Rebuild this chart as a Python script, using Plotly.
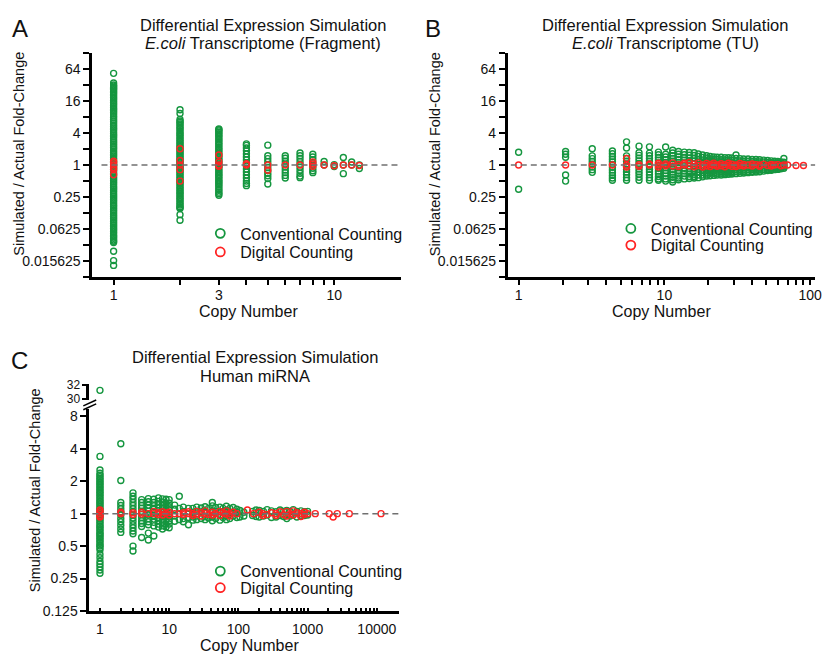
import math
import plotly.graph_objects as go

# ---------------- DATA ----------------
# Panel A: E.coli Transcriptome (Fragment)
A_COPY = [1, 2, 3, 4, 5, 6, 7, 8, 9, 10, 11, 12, 13]
A_CONV = [
    [53, 35, 32, 30.5, 29, 27.5, 26, 24.5, 23, 21.5, 20, 18.7, 17.5, 16.2, 15, 14, 13, 12, 11.2, 10.5,
     9.8, 9.1, 8.4, 7.8, 7.2, 6.7, 6.2, 5.7, 5.3, 4.95, 4.6, 4.25, 3.9, 3.65, 3.4, 3.15, 2.9, 2.7,
     2.5, 2.32, 2.15, 2.0, 1.85, 1.72, 1.6, 1.49, 1.38, 1.28, 1.18, 1.1, 1.02, 0.95, 0.88, 0.82,
     0.76, 0.7, 0.65, 0.6, 0.56, 0.52, 0.48, 0.445, 0.41, 0.38, 0.355, 0.33, 0.305, 0.28, 0.26,
     0.242, 0.225, 0.21, 0.195, 0.18, 0.168, 0.156, 0.145, 0.135, 0.125, 0.116, 0.108, 0.1, 0.093,
     0.086, 0.08, 0.074, 0.069, 0.064, 0.06, 0.056, 0.052, 0.048, 0.045, 0.042, 0.039, 0.037, 0.035,
     0.024, 0.016, 0.013],
    [11, 9.3, 7.2, 6.7, 6.3, 5.9, 5.5, 5.1, 4.8, 4.45, 4.1, 3.85, 3.6, 3.35, 3.1, 2.9, 2.7, 2.52,
     2.35, 2.2, 2.05, 1.9, 1.78, 1.66, 1.55, 1.45, 1.35, 1.26, 1.17, 1.1, 1.02, 0.95, 0.89, 0.83,
     0.77, 0.72, 0.67, 0.62, 0.58, 0.54, 0.5, 0.47, 0.44, 0.41, 0.38, 0.355, 0.33, 0.31, 0.29, 0.27,
     0.25, 0.235, 0.22, 0.205, 0.19, 0.178, 0.165, 0.158, 0.152, 0.117, 0.092],
    [4.8, 4.6, 4.4, 4.15, 3.9, 3.65, 3.4, 3.15, 2.95, 2.75, 2.55, 2.38, 2.2, 2.06, 1.92, 1.79, 1.66,
     1.55, 1.45, 1.35, 1.26, 1.18, 1.1, 1.02, 0.95, 0.89, 0.83, 0.77, 0.72, 0.67, 0.63, 0.59, 0.55,
     0.51, 0.48, 0.45, 0.42, 0.39, 0.36, 0.335, 0.31, 0.29, 0.27],
    [2.5, 2.35, 2.1, 1.85, 1.62, 1.42, 1.25, 1.1, 0.96, 0.84, 0.74, 0.65, 0.57, 0.5, 0.45, 0.41],
    [2.37, 1.5, 1.32, 1.16, 1.02, 0.9, 0.79, 0.7, 0.63, 0.56, 0.44],
    [1.5, 1.34, 1.18, 1.04, 0.92, 0.81, 0.72, 0.64, 0.57],
    [1.69, 1.5, 1.33, 1.17, 1.03, 0.91, 0.8, 0.7, 0.62, 0.58],
    [1.6, 1.42, 1.26, 1.11, 0.98, 0.87, 0.78, 0.72],
    [1.17, 1.0],
    [1.02, 0.94],
    [1.39, 1.0, 0.69],
    [1.14, 1.0],
    [1.0, 0.86],
]
A_DIG = [
    [1.18, 1.1, 1.0, 0.9, 0.82, 0.66],
    [2.03, 1.22, 1.0, 0.82, 0.5],
    [1.55, 1.14, 1.0, 0.95],
    [1.06, 1.0],
    [1.0, 0.8],
    [1.0],
    [1.0],
    [1.15, 1.05, 0.95],
    [1.0],
    [0.97],
    [1.0],
    [1.0],
    [0.98],
]

# Panel B: E.coli Transcriptome (TU)
B_COPY = [1, 2.1, 3.2, 4.4, 5.5, 6.7, 7.9, 9.1, 10.2,
          11.4, 12.5, 13.7, 14.8, 16.0, 17.1, 18.3, 19.5, 20.6, 21.8, 23.0, 24.5, 26.0, 27.5, 29.0,
          31.0, 33.0, 35.0, 37.5, 40.0, 42.5, 45.0, 48.0, 51.0, 54.0, 57.0, 60.0, 63.0, 66.0]
B_CONV = [
    [1.74, 0.35],
    [1.8, 1.6, 1.4, 0.65, 0.5],
    [2.03, 1.49, 1.32, 1.17, 1.04, 0.92, 0.82, 0.73],
    [1.84, 1.63, 1.45, 1.29, 1.15, 1.02, 0.91, 0.81, 0.72, 0.64, 0.57, 0.52],
    [2.73, 2.1, 1.49, 1.33, 1.18, 1.05, 0.93, 0.83, 0.74, 0.66, 0.58, 0.52],
    [2.27, 1.71, 1.52, 1.35, 1.2, 1.07, 0.95, 0.84, 0.75, 0.67, 0.59, 0.52],
    [2.2, 1.68, 1.5, 1.33, 1.18, 1.05, 0.93, 0.83, 0.74, 0.66, 0.58, 0.52],
    [1.75, 1.56, 1.39, 1.24, 1.1, 0.98, 0.87, 0.77, 0.69, 0.61, 0.55, 0.52],
    [2.18, 1.6, 1.42, 1.26, 1.12, 1.0, 0.89, 0.79, 0.7, 0.62, 0.55, 0.5],
    [1.9, 1.69, 1.5, 1.33, 1.18, 1.05, 0.93, 0.83, 0.74, 0.66, 0.59, 0.53, 0.48],
    [1.8, 1.6, 1.42, 1.26, 1.12, 1.0, 0.89, 0.79, 0.7, 0.62, 0.57, 0.53],
    [1.75, 1.56, 1.39, 1.24, 1.1, 0.98, 0.87, 0.77, 0.69, 0.62, 0.55],
    [1.72, 1.53, 1.36, 1.21, 1.08, 0.96, 0.85, 0.76, 0.68, 0.61, 0.56],
    [1.7, 1.51, 1.34, 1.19, 1.06, 0.94, 0.84, 0.75, 0.67, 0.61, 0.57],
    [1.62, 1.45, 1.29, 1.15, 1.03, 0.92, 0.82, 0.73, 0.65, 0.58],
    [1.55, 1.39, 1.25, 1.12, 1.0, 0.9, 0.8, 0.72, 0.65, 0.6],
    [1.5, 1.35, 1.21, 1.09, 0.98, 0.88, 0.79, 0.71, 0.65, 0.62],
    [1.45, 1.31, 1.18, 1.06, 0.95, 0.86, 0.77, 0.7, 0.63],
    [1.42, 1.28, 1.15, 1.04, 0.94, 0.85, 0.77, 0.7, 0.64],
    [1.4, 1.27, 1.15, 1.04, 0.94, 0.85, 0.77, 0.7, 0.65],
    [1.4, 1.26, 1.14, 1.03, 0.93, 0.84, 0.76, 0.7, 0.65],
    [1.38, 1.25, 1.13, 1.02, 0.92, 0.83, 0.76, 0.7, 0.66],
    [1.37, 1.24, 1.12, 1.01, 0.92, 0.83, 0.76, 0.71, 0.67],
    [1.36, 1.23, 1.11, 1.0, 0.91, 0.83, 0.76, 0.71, 0.68],
    [1.55, 1.33, 1.2, 1.09, 0.99, 0.9, 0.82, 0.75, 0.69],
    [1.32, 1.2, 1.09, 0.99, 0.9, 0.82, 0.76, 0.7],
    [1.3, 1.18, 1.07, 0.98, 0.89, 0.81, 0.75, 0.71],
    [1.3, 1.18, 1.07, 0.97, 0.89, 0.82, 0.76, 0.72],
    [1.28, 1.17, 1.06, 0.97, 0.89, 0.82, 0.76, 0.73],
    [1.27, 1.16, 1.06, 0.97, 0.89, 0.82, 0.77, 0.74],
    [1.26, 1.15, 1.05, 0.96, 0.88, 0.81, 0.75],
    [1.24, 1.14, 1.04, 0.96, 0.88, 0.82, 0.77],
    [1.22, 1.12, 1.03, 0.95, 0.88, 0.83, 0.79],
    [1.2, 1.11, 1.02, 0.94, 0.87, 0.82, 0.8],
    [1.18, 1.09, 1.01, 0.94, 0.88, 0.82],
    [1.17, 1.08, 1.0, 0.93, 0.87, 0.83],
    [1.15, 1.07, 0.99, 0.93, 0.88, 0.85],
    [1.33, 1.13, 1.05, 0.98, 0.92, 0.87],
]
B_DIG_COPY = [1, 2.1, 3.2, 4.4, 5.5, 6.7, 7.9, 9.1, 10.2, 11.4, 12.5, 13.7, 14.8, 16.0, 17.1, 18.3,
              19.5, 20.6, 21.8, 23.0, 24.5, 26.0, 27.5, 29.0, 31.0, 33.0, 35.0, 37.5, 40.0, 42.5,
              45.0, 48.0, 51.0, 54.0, 57.0, 60.0, 63.0, 66.0, 70.0, 80.0, 90.0]
B_DIG = [
    [1.0], [1.0], [1.0], [1.0], [1.33, 1.0, 0.92], [1.02, 0.95], [1.05, 1.0], [1.08, 1.0, 0.92],
    [1.05, 0.97], [1.1, 0.96], [1.02, 0.94], [1.08, 1.0], [1.12, 0.97], [1.04, 0.93], [1.1, 0.98],
    [1.0, 0.92], [1.07, 0.97], [1.03, 0.94], [1.09, 1.0], [1.0, 0.95], [1.06, 0.97], [1.02, 0.93],
    [1.08, 0.99], [1.04, 0.95], [1.0, 0.94], [1.07, 0.98], [1.03, 0.96], [1.0], [1.05, 0.96],
    [1.02], [1.0, 0.95], [1.04], [0.98], [1.03, 0.96], [1.0], [1.02], [0.97], [1.0], [1.0],
    [0.98], [0.98],
]

# Panel C: Human miRNA
C_COPY = [1, 2, 3, 4, 5, 6, 7, 8, 9, 10, 12, 14, 16, 19, 22, 25, 29, 33, 37, 42, 47, 54, 60, 67,
          75, 84, 95, 105, 120, 160, 180, 200, 230, 260, 300, 350, 400, 450, 500, 560, 620, 700,
          800, 900, 1000]
C_CONV = [
    [3.4, 2.54, 2.37, 2.28, 2.2, 2.12, 2.05, 1.98, 1.92, 1.86, 1.8, 1.74, 1.68, 1.62, 1.57, 1.52,
     1.47, 1.42, 1.37, 1.32, 1.28, 1.24, 1.2, 1.16, 1.12, 1.08, 1.05, 1.01, 0.98, 0.95, 0.92, 0.89,
     0.86, 0.83, 0.8, 0.77, 0.75, 0.72, 0.7, 0.67, 0.65, 0.63, 0.61, 0.59, 0.57, 0.55, 0.53, 0.51,
     0.5, 0.48, 0.46, 0.42, 0.39, 0.36, 0.34, 0.32, 0.3, 0.28],
    [4.45, 2.03, 1.27, 1.19, 1.11, 1.04, 0.97, 0.9, 0.84, 0.78, 0.72, 0.67],
    [1.56, 1.45, 1.36, 1.27, 1.19, 1.11, 1.04, 0.97, 0.91, 0.85, 0.79, 0.74, 0.69, 0.65, 0.5, 0.45],
    [1.35, 1.27, 1.19, 1.12, 1.05, 0.98, 0.92, 0.86, 0.81, 0.76, 0.6],
    [1.38, 1.29, 1.2, 1.12, 1.05, 0.97, 0.9, 0.84, 0.79, 0.66, 0.57],
    [1.36, 1.27, 1.18, 1.1, 1.03, 0.96, 0.89, 0.83, 0.77, 0.62],
    [1.4, 1.3, 1.21, 1.13, 1.06, 0.99, 0.92, 0.86, 0.8, 0.75],
    [1.37, 1.28, 1.19, 1.11, 1.03, 0.96, 0.89, 0.83, 0.77, 0.72],
    [1.36, 1.26, 1.17, 1.09, 1.01, 0.94, 0.87, 0.8, 0.75],
    [1.35, 1.25, 1.16, 1.08, 1.0, 0.93, 0.86, 0.8, 0.74],
    [1.2, 1.1, 0.95, 0.85],
    [1.45, 1.12, 0.88],
    [1.15, 1.05, 0.9, 0.84],
    [1.12, 0.92, 0.79],
    [1.12, 1.03, 0.93, 0.87],
    [1.15, 1.05, 0.95, 0.88],
    [1.13, 1.04, 0.9],
    [1.16, 1.06, 0.94, 0.88],
    [1.12, 0.91],
    [1.27, 1.18, 1.06, 0.93, 0.86],
    [1.14, 1.05, 0.9],
    [1.15, 1.04, 0.87],
    [1.12, 0.92],
    [1.17, 1.07, 0.95, 0.88],
    [1.12, 1.03, 0.9],
    [1.14, 0.95],
    [1.1, 1.03, 0.92],
    [1.07, 0.93],
    [1.03, 0.95],
    [1.05, 0.96],
    [1.08, 0.94],
    [1.07, 1.02, 0.93],
    [1.05, 0.95],
    [1.09, 0.97],
    [1.06, 0.92],
    [1.04, 0.93],
    [1.08, 0.96],
    [1.05, 0.94],
    [1.07, 0.96, 0.9],
    [1.04, 0.95],
    [1.09, 0.97],
    [1.05, 0.93],
    [1.06, 0.95],
    [1.04, 0.96],
    [1.05, 0.97],
]
C_CONV_TOP_COPY = [1]
C_CONV_TOP = [31.2]
C_DIG_COPY = [1, 2, 3, 4, 5, 6, 7, 8, 9, 10, 12, 14, 16, 19, 22, 25, 29, 33, 37, 42, 47, 54, 60,
              67, 75, 84, 95, 135, 165, 200, 225, 260, 300, 350, 400, 450, 500, 560, 620, 700,
              800, 900, 1000, 1290, 2050, 2340, 2680, 4000, 11500]
C_DIG = [
    [1.08, 1.04, 1.0, 0.96, 0.93], [1.03, 1.0], [1.02, 0.98], [1.03, 0.99], [1.0], [1.05, 1.0],
    [1.02, 0.98], [1.04, 0.97], [1.01], [1.03, 0.97], [1.0], [1.0], [1.02, 0.98], [1.04, 1.0],
    [1.0, 0.96], [1.05, 0.99], [1.02, 0.95], [1.06, 1.0], [0.98], [1.03, 0.97], [1.0],
    [1.05, 0.96], [1.02], [0.99, 1.06], [1.0, 0.95], [1.03], [1.0], [1.08], [1.0], [1.03],
    [1.0, 0.96], [0.98], [1.02], [1.0, 0.96], [1.04], [0.98], [1.05, 0.95], [1.0], [1.06, 0.97],
    [1.02], [0.94, 1.0], [1.03, 0.98], [1.0], [1.0], [1.0], [0.93], [1.0], [1.0], [1.0],
]

# ---------------- STYLE ----------------
OFF = 0            # body margin is removed below, so the figure starts at the window corner
FW, FH = 836, 663
GREEN = "#15963f"
RED = "#ff2323"
FONT = "Liberation Sans, Arial, Helvetica, sans-serif"
TXT = "#111111"


def px(x):
    return (x - OFF) / FW


def py(y):
    return 1 - (y - OFF) / FH


def xd(l, r):
    return [px(l), px(r)]


def yd(t, b):
    return [py(b), py(t)]


def flat(copies, cols):
    xs, ys = [], []
    for c, vals in zip(copies, cols):
        for v in vals:
            xs.append(c)
            ys.append(v)
    return xs, ys


fig = go.Figure()

mk_conv = dict(symbol="circle-open", size=6, color=GREEN, line=dict(width=1.4, color=GREEN))
mk_dig = dict(symbol="circle-open", size=6, color=RED, line=dict(width=1.4, color=RED))


def add_panel(xa, ya, copies_c, conv, copies_d, dig, legs):
    x, y = flat(copies_c, conv)
    fig.add_trace(go.Scatter(x=x, y=y, mode="markers", marker=mk_conv, xaxis=xa, yaxis=ya,
                             showlegend=False, hoverinfo="x+y"))
    x, y = flat(copies_d, dig)
    fig.add_trace(go.Scatter(x=x, y=y, mode="markers", marker=mk_dig, xaxis=xa, yaxis=ya,
                             showlegend=False, hoverinfo="x+y"))
    for (name, col), leg in zip((("Conventional Counting", GREEN), ("Digital Counting", RED)), legs):
        fig.add_trace(go.Scatter(x=[None], y=[None], mode="markers", name=name, xaxis=xa, yaxis=ya,
                                 marker=dict(symbol="circle-open", size=9, color=col,
                                             line=dict(width=1.8, color=col)),
                                 legend=leg, showlegend=True))


add_panel("x", "y", A_COPY, A_CONV, A_COPY, A_DIG, ("legend", "legend2"))
add_panel("x2", "y2", B_COPY, B_CONV, B_DIG_COPY, B_DIG, ("legend3", "legend4"))
add_panel("x3", "y3", C_COPY, C_CONV, C_DIG_COPY, C_DIG, ("legend5", "legend6"))
x, y = flat(C_CONV_TOP_COPY, [C_CONV_TOP])
fig.add_trace(go.Scatter(x=x, y=y, mode="markers", marker=mk_conv, xaxis="x3", yaxis="y4",
                         showlegend=False, cliponaxis=False))

axis_common = dict(showline=True, linecolor="black", linewidth=2.5, showgrid=False, zeroline=False,
                   ticks="outside", ticklen=6, tickwidth=1.5, tickcolor="black",
                   tickfont=dict(family=FONT, size=14, color=TXT), mirror=False)

p2 = [2.0 ** k for k in range(-7, 8)]
lab2 = {-6: "0.015625", -4: "0.0625", -2: "0.25", 0: "1", 2: "4", 4: "16", 6: "64"}
p2txt = [lab2.get(k, "") for k in range(-7, 8)]

ab_yaxis = dict(axis_common, type="log", range=[math.log10(2 ** -7), math.log10(2 ** 7)],
                tickvals=p2, ticktext=p2txt)

a_ticks = list(range(1, 11))
a_txt = ["1", "", "3", "", "", "", "", "", "", "10"]
b_ticks = list(range(1, 10)) + list(range(10, 101, 10))
b_txt = ["1"] + [""] * 8 + ["10"] + [""] * 8 + ["100"]
c_ticks, c_txt = [], []
for dec in range(0, 5):
    for m in range(1, 10):
        v = m * 10 ** dec
        if v > 20000:
            continue
        c_ticks.append(v)
        c_txt.append(str(v) if m == 1 else "")
c_ticks.append(20000)
c_txt.append("")

fig.update_layout(
    width=FW, height=FH, margin=dict(l=0, r=0, t=0, b=0),
    paper_bgcolor="white", plot_bgcolor="white",
    font=dict(family=FONT, color=TXT),
    xaxis=dict(axis_common, type="log", domain=xd(93, 404), range=[math.log10(0.8), math.log10(20)],
               tickvals=a_ticks, ticktext=a_txt, anchor="y", ticklen=5, ticklabelstandoff=-2),
    yaxis=dict(ab_yaxis, domain=yd(48, 277), anchor="x"),
    xaxis2=dict(axis_common, type="log", domain=xd(512, 822), range=[-0.0748, 2.034],
                tickvals=b_ticks, ticktext=b_txt, anchor="y2", ticklen=5, ticklabelstandoff=-2),
    yaxis2=dict(ab_yaxis, domain=yd(48, 277), anchor="x2"),
    xaxis3=dict(axis_common, type="log", domain=xd(90, 402), range=[math.log10(0.7), 4.315],
                tickvals=c_ticks, ticktext=c_txt, anchor="y3", ticks="inside", ticklen=3,
                ticklabelstandoff=3),
    yaxis3=dict(axis_common, type="log", domain=yd(412, 618),
                range=[math.log10(0.125), math.log10(9.3)],
                tickvals=[0.125, 0.25, 0.5, 1, 2, 4, 8],
                ticktext=["0.125", "0.25", "0.5", "1", "2", "4", "8"], anchor="x3"),
    yaxis4=dict(axis_common, type="linear", domain=yd(386, 403), range=[29.8, 32.1],
                tickvals=[30, 32], ticktext=["30", "32"], anchor="x3",
                tickfont=dict(family=FONT, size=12, color=TXT), ticklen=4),
)

leg_common = dict(font=dict(family=FONT, size=16, color=TXT), bgcolor="rgba(0,0,0,0)",
                  xanchor="left", yanchor="top", tracegroupgap=0, itemwidth=30)
LEG_DY = 16
LEG_DX = 38
fig.update_layout(
    legend=dict(leg_common, x=px(240 - LEG_DX), y=py(231 - LEG_DY)),
    legend2=dict(leg_common, x=px(240 - LEG_DX), y=py(250 - LEG_DY)),
    legend3=dict(leg_common, x=px(654 - LEG_DX), y=py(226 - LEG_DY)),
    legend4=dict(leg_common, x=px(654 - LEG_DX), y=py(243 - LEG_DY)),
    legend5=dict(leg_common, x=px(240 - LEG_DX), y=py(576 - LEG_DY)),
    legend6=dict(leg_common, x=px(240 - LEG_DX), y=py(593 - LEG_DY)),
)

# dashed reference lines at fold-change 1
for xr, yr, x0 in (("x", "y", 0.03), ("x2", "y2", 0.01), ("x3", "y3", 0.01)):
    fig.add_shape(type="line", xref=f"{xr} domain", yref=yr, x0=x0, x1=1, y0=1, y1=1,
                  line=dict(color="#707070", width=1.5, dash="6px,4px"), layer="above")

# axis break marks on panel C
for yy in (405.5, 409.5):
    fig.add_shape(type="line", xref="paper", yref="paper", x0=px(84), x1=px(97),
                  y0=py(yy + 3), y1=py(yy - 3), line=dict(color="black", width=1.5))

ann = []


def text(x, y, s, size=16, angle=0):
    ann.append(dict(x=px(x), y=py(y), xref="paper", yref="paper", text=s, showarrow=False,
                    font=dict(family=FONT, size=size, color=TXT), textangle=angle,
                    xanchor="center", yanchor="middle"))


# titles
text(265, 19, "Differential Expression Simulation", 16.5)
text(265, 38, "<i>E.coli</i> Transcriptome (Fragment)", 16.5)
text(671, 19, "Differential Expression Simulation", 16.5)
text(671, 38, "<i>E.coli</i> Transcriptome (TU)", 16.5)
text(257, 359, "Differential Expression Simulation", 16.5)
text(257, 378, "Human miRNA", 16.5)
# panel letters
text(20, 23, "A", size=24)
text(437, 23, "B", size=24)
text(20, 362, "C", size=24)
# axis titles
text(19, 151, "Simulated / Actual Fold-Change", size=14.5, angle=-90)
text(438, 151, "Simulated / Actual Fold-Change", size=14.5, angle=-90)
text(35, 495, "Simulated / Actual Fold-Change", size=14.5, angle=-90)
text(251, 312, "Copy Number")
text(667, 312, "Copy Number")
text(252, 653, "Copy Number")
fig.update_layout(annotations=ann)

fig.write_html("out.html", config={"displayModeBar": False},
               post_script="document.body.style.margin='0px';document.body.style.padding='0px';"
                           "document.body.style.overflow='hidden';")
